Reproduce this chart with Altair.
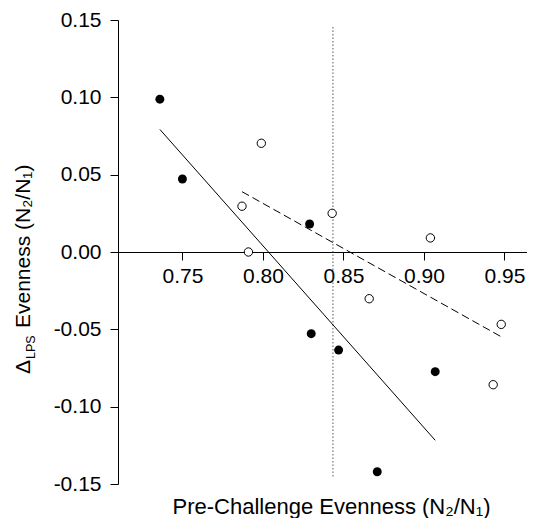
import altair as alt
import pandas as pd

# Filled circles (group 1)
filled_x = [0.736, 0.750, 0.829, 0.830, 0.847, 0.871, 0.907]
filled_y = [0.0988, 0.0472, 0.0181, -0.0528, -0.0634, -0.1421, -0.0774]
# Open circles (group 2)
open_x = [0.799, 0.787, 0.791, 0.843, 0.904, 0.866, 0.948, 0.943]
open_y = [0.0703, 0.0296, 0.0000, 0.0250, 0.0091, -0.0302, -0.0468, -0.0858]
# Reference (dotted) line
ref_x = [0.8435]
ref_y_top = [0.1455]
ref_y_bottom = [-0.1455]
# Tick labels
x_ticks = [0.75, 0.80, 0.85, 0.90, 0.95]
y_ticks = [-0.15, -0.10, -0.05, 0.00, 0.05, 0.10, 0.15]
# Axis titles
x_title = "Pre-Challenge Evenness (N₂/N₁)"
y_title_delta = ["Δ"]
y_title_sub = ["LPS"]
y_title_rest = ["Evenness (N₂/N₁)"]

df_f = pd.DataFrame({"x": filled_x, "y": filled_y})
df_o = pd.DataFrame({"x": open_x, "y": open_y})
df_ref = pd.DataFrame({"x": ref_x, "y": ref_y_top, "y2": ref_y_bottom})

FONT = "Liberation Sans"
xs = alt.Scale(domain=[0.71, 0.964], nice=False, zero=False)
ys = alt.Scale(domain=[-0.15, 0.15], nice=False, zero=False)

x_axis = alt.Axis(
    values=x_ticks,
    labelExpr="format(datum.value, '.2f')",
    offset=-232,
    title=x_title,
    titleY=261,
    titleX=213,
    titleAlign="center",
    titleBaseline="alphabetic",
    titleFontSize=22,
    grid=False,
    tickSize=8,
    labelPadding=5,
)
y_axis = alt.Axis(
    values=y_ticks,
    labelExpr="(datum.value < -0.0001 ? '-' : '') + format(abs(datum.value), '.2f')",
    title=None,
    grid=False,
    tickSize=8,
    labelPadding=9,
)

X = alt.X("x:Q", scale=xs, axis=x_axis)
Y = alt.Y("y:Q", scale=ys, axis=y_axis)

ref = alt.Chart(df_ref).mark_rule(
    color="#555555", strokeWidth=1, strokeDash=[1.5, 2]
).encode(x=X, y=Y, y2="y2:Q")

line_f = alt.Chart(df_f).transform_regression("x", "y").mark_line(
    color="black", strokeWidth=1
).encode(x=X, y=Y)

line_o = alt.Chart(df_o).transform_regression("x", "y").mark_line(
    color="black", strokeWidth=1, strokeDash=[8, 4]
).encode(x=X, y=Y)

pts_f = alt.Chart(df_f).mark_circle(
    size=80, color="black", opacity=1
).encode(x=X, y=Y)

pts_o = alt.Chart(df_o).mark_point(
    shape="circle", size=70, fill="white", stroke="black", strokeWidth=1, opacity=1, fillOpacity=1
).encode(x=X, y=Y)

# Y-axis title composed of pieces (Delta with subscript LPS)
yt_delta = alt.Chart(pd.DataFrame({"t": y_title_delta})).mark_text(
    angle=270, align="left", baseline="alphabetic", font=FONT, fontSize=21, color="black"
).encode(text="t:N", x=alt.value(-88), y=alt.value(354))
yt_sub = alt.Chart(pd.DataFrame({"t": y_title_sub})).mark_text(
    angle=270, align="left", baseline="alphabetic", font=FONT, fontSize=12.5, color="black"
).encode(text="t:N", x=alt.value(-83), y=alt.value(339))
yt_rest = alt.Chart(pd.DataFrame({"t": y_title_rest})).mark_text(
    angle=270, align="left", baseline="alphabetic", font=FONT, fontSize=21, color="black"
).encode(text="t:N", x=alt.value(-88), y=alt.value(308))

chart = alt.layer(ref, line_f, line_o, pts_f, pts_o, yt_delta, yt_sub, yt_rest).properties(
    width=409,
    height=464,
    autosize="none",
    padding={"left": 110, "top": 12, "right": 0, "bottom": 34},
).configure_view(stroke=None).configure_axis(
    labelFont=FONT,
    titleFont=FONT,
    labelFontSize=21,
    titleFontSize=21,
    titleFontWeight="normal",
    labelColor="black",
    titleColor="black",
    domainColor="black",
    tickColor="black",
    domainWidth=1,
    tickWidth=1,
)

chart.save("out.html", embed_options={"renderer": "svg", "actions": False})
